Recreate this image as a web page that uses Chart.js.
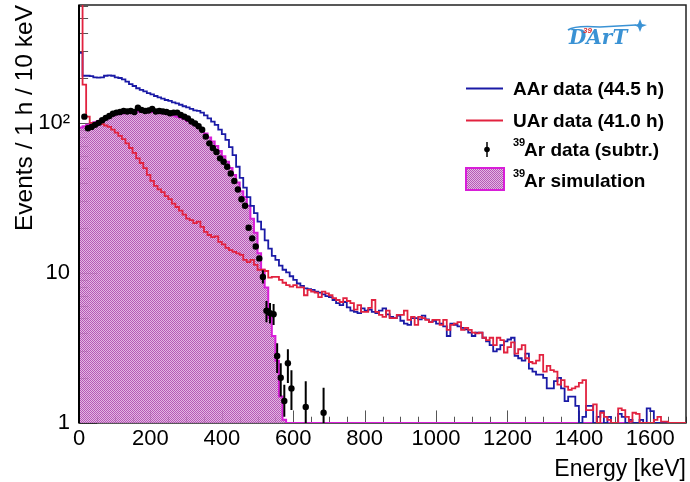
<!DOCTYPE html>
<html>
<head>
<meta charset="utf-8">
<script src="https://cdn.jsdelivr.net/npm/chart.js@4.4.1/dist/chart.umd.min.js"></script>
<style>
  html, body { margin: 0; padding: 0; background: #fff; }
  canvas { display: block; }
</style>
</head>
<body>
<canvas id="c" width="690" height="482"></canvas>
<script>
// ---------------- axis definitions ----------------
const BIN_WIDTH = 10;          // keV per bin
const X_MIN = 0, X_MAX = 1700; // keV
const Y_MIN = 1, Y_MAX = 610;  // events / 1 h / 10 keV
const xTickValues = [0, 200, 400, 600, 800, 1000, 1200, 1400, 1600];
const xMinorStep = 50;
const yTickValues = [1, 10, 100];
const yTickLabels = ['1', '10', '10\u00B2'];

// ---------------- series (one value per 10 keV bin, starting at 0 keV) ----------------
// AAr data (44.5 h)
const aarRate = [
  293, 206, 206, 205, 201, 200, 201, 206, 207, 206,
  201, 199, 195, 188, 181, 176, 170, 166, 162, 158,
  155, 151, 148, 145, 142, 140, 137, 135, 132, 129,
  127, 124, 121, 120, 117, 112, 107, 102, 97, 90,
  84, 77, 69, 61, 51, 43, 37, 32, 28, 25,
  22, 19.5, 16.5, 14.5, 13, 12.2, 11.2, 10.5, 10.1, 9.5,
  9.0, 8.5, 8.2, 7.9, 7.8, 7.7, 7.5, 7.4, 7.2, 7.0,
  6.9, 6.6, 6.3, 6.1, 6.4, 5.9, 5.6, 5.5, 5.4, 5.8,
  5.6, 5.7, 5.5, 5.4, 5.6, 5.8, 5.3, 5.1, 5.0, 5.2,
  4.8, 4.6, 4.5, 5.0, 5.0, 4.9, 5.2, 4.9, 4.7, 4.8,
  4.6, 4.6, 4.4, 3.8, 4.6, 4.5, 4.4, 4.3, 4.2, 4.0,
  3.8, 4.0, 4.0, 3.7, 3.5, 3.3, 3.0, 3.1, 3.3, 3.5,
  3.6, 3.7, 2.8, 2.7, 2.6, 2.9, 2.3, 2.2, 2.1, 2.1,
  2.0, 1.7, 1.7, 1.9, 2.0, 1.7, 1.4, 1.5, 1.5, 1.3,
  0, 1.1, 1.3, 1.3, 0, 1.1, 1.2, 0, 1.1, 0,
  0, 1.15, 1.1, 0, 1.05, 0, 0, 1.05, 0, 1.25,
  1.2, 0, 0, 0, 0, 0, 0, 0, 0, 0
];
// UAr data (41.0 h)
const uarRate = [
  3000, 180, 110, 100, 100, 99, 98, 96, 94, 90,
  86, 82, 78, 73, 68, 63, 58, 54, 50, 45,
  41, 38, 36, 34.5, 32.5, 31, 29, 27.5, 26, 24.5,
  23, 22.5, 21.5, 22, 20.3, 18.8, 17.9, 17.3, 17.5, 16.1,
  15.5, 14.7, 14.2, 13.8, 13.5, 13.2, 12.2, 11.8, 12.2, 11.3,
  10.5, 10.5, 10.3, 9.3, 9.4, 9.4, 9.0, 8.6, 8.3, 8.1,
  8.3, 8.0, 8.0, 7.1, 7.7, 7.5, 7.4, 6.9, 7.5, 7.3,
  7.1, 6.8, 6.6, 6.4, 6.8, 6.5, 6.3, 5.7, 6.1, 5.5,
  5.5, 5.85, 6.6, 5.5, 5.25, 5.1, 5.6, 5.0, 5.0, 5.25,
  5.25, 5.6, 4.86, 5.1, 4.5, 5.1, 5.0, 4.86, 4.7, 4.86,
  4.86, 4.5, 4.86, 4.17, 4.5, 4.6, 4.7, 4.17, 4.3, 4.17,
  4.0, 3.95, 4.0, 3.7, 3.57, 3.7, 3.3, 3.7, 3.57, 2.95,
  3.2, 3.45, 2.9, 3.1, 3.3, 2.7, 2.55, 2.5, 2.6, 2.84,
  2.2, 2.4, 2.25, 2.2, 1.8, 1.93, 1.75, 1.66, 1.7, 1.75,
  1.85, 1.93, 1.22, 1.22, 1.33, 0, 1.17, 1.1, 1.05, 0,
  0, 1.25, 1.22, 1.1, 1.02, 1.17, 1.15, 0, 0, 0,
  0, 1.05, 1.1, 1.02, 1.02, 0, 0, 0, 0, 0
];
// 39Ar simulation (bins beyond the list are empty)
const simRate = [
  93, 95, 97, 99, 101, 103, 106, 108, 110, 112,
  114, 115, 116, 117, 118, 118, 119, 119, 119, 119,
  118, 118, 117, 116, 115, 114, 112, 110, 108, 106,
  103, 100, 97, 93, 89, 85, 80, 75, 70, 65,
  60, 55, 50, 45, 40, 35, 32, 28, 23, 18.5,
  13.5, 10.5, 8, 5.0, 3.8, 2.6, 1.5, 1.05
];
// 39Ar data (subtracted): bin centres [keV], rate, error band
const dataEnergy = [
  15, 25, 35, 45, 55, 65, 75, 85, 95, 105,
  115, 125, 135, 145, 155, 165, 175, 185, 195, 205,
  215, 225, 235, 245, 255, 265, 275, 285, 295, 305,
  315, 325, 335, 345, 355, 365, 375, 385, 395, 405,
  415, 425, 435, 445, 455, 465, 475, 485, 495, 505,
  515, 525, 535, 545, 555, 565, 575, 585, 595, 635, 685
];
const dataRate = [
  110, 92, 94, 97, 100, 104, 108, 111, 115, 117,
  118, 120, 119, 120, 118, 126, 122, 120, 121, 124,
  119, 120, 119, 118, 116, 117, 117, 113, 110, 107,
  102, 99, 95, 90, 81, 73, 68, 64, 58, 55,
  51, 46, 41, 36, 31, 28, 20, 17, 15, 12.5,
  9.4, 5.6, 5.4, 5.3, 2.8, 2.0, 1.4, 2.5, 1.7, 1.28, 1.17
];
const dataErrLow = [
  null, null, null, null, null, null, null, null, null, null,
  null, null, null, null, null, null, null, null, null, null,
  null, null, null, null, null, null, null, null, null, null,
  null, null, null, null, null, null, null, null, null, null,
  null, null, null, null, null, null, null, null, null, null,
  8.5, 4.7, 4.6, 4.5, 2.15, 1.5, 1.1, 1.85, 1.22, 0.8, 0.7
];
const dataErrHigh = [
  null, null, null, null, null, null, null, null, null, null,
  null, null, null, null, null, null, null, null, null, null,
  null, null, null, null, null, null, null, null, null, null,
  null, null, null, null, null, null, null, null, null, null,
  null, null, null, null, null, null, null, null, null, null,
  10.4, 6.5, 6.3, 6.2, 3.4, 2.5, 1.8, 3.1, 2.25, 1.9, 1.72
];

// ---------------- styling ----------------
const COL_BLUE = '#1a1aa6';
const COL_RED = '#e2223f';
const COL_MAG = '#d81ed8';
const FONT = '"Liberation Sans", Arial, Helvetica, sans-serif';

function makeHatch() {
  const c = document.createElement('canvas');
  c.width = 2; c.height = 2;
  const g = c.getContext('2d');
  g.fillStyle = 'rgba(178,80,178,0.95)';
  g.fillRect(0, 0, 1, 1); g.fillRect(1, 1, 1, 1);
  g.fillStyle = 'rgba(222,170,222,0.85)';
  g.fillRect(1, 0, 1, 1); g.fillRect(0, 1, 1, 1);
  return g.createPattern(c, 'repeat');
}
const hatch = makeHatch();

const nBins = aarRate.length;
const binLowEdge = aarRate.map((_, i) => X_MIN + i * BIN_WIDTH);

// histogram outline: left bin edges + closing right edge; empty bins sit on the frame floor
function histPoints(values) {
  const pts = binLowEdge.map((e, i) => ({ x: e, y: Math.max(values[i] ?? 0, Y_MIN) }));
  const lastVal = values[nBins - 1] ?? 0;
  pts.push({ x: binLowEdge[nBins - 1] + BIN_WIDTH, y: Math.max(lastVal, Y_MIN) });
  return pts;
}

// ---------------- plugins ----------------
const frameAndTicks = {
  id: 'frameAndTicks',
  beforeDatasetsDraw(chart) {
    const { ctx, chartArea: a, scales: { x, y } } = chart;
    ctx.save();
    ctx.strokeStyle = '#555';
    ctx.lineWidth = 1;
    const hMaj = 0.03 * (a.bottom - a.top);
    const wMaj = 0.03 * (a.right - a.left);
    ctx.beginPath();
    for (let v = X_MIN; v <= X_MAX; v += xMinorStep) {
      const px = Math.round(x.getPixelForValue(v)) + 0.5;
      const len = xTickValues.includes(v) ? hMaj : hMaj / 2;
      ctx.moveTo(px, a.bottom);
      ctx.lineTo(px, a.bottom - len);
    }
    for (let d = 1; d <= Y_MAX; d *= 10) {
      for (let k = 1; k <= 9; k++) {
        const v = k * d;
        if (v > Y_MAX) break;
        const py = Math.round(y.getPixelForValue(v)) + 0.5;
        const len = k === 1 ? wMaj : wMaj / 2;
        ctx.moveTo(a.left, py);
        ctx.lineTo(a.left + len, py);
      }
    }
    ctx.stroke();
    // frame
    ctx.strokeStyle = '#222';
    ctx.lineWidth = 1.5;
    ctx.strokeRect(a.left, a.top, a.right - a.left, a.bottom - a.top);
    ctx.restore();
  },
  afterDatasetsDraw(chart) {
    const { ctx, chartArea: a, scales: { x, y } } = chart;
    // error bars of the subtracted data
    ctx.save();
    ctx.beginPath();
    ctx.rect(a.left, a.top, a.right - a.left, a.bottom - a.top);
    ctx.clip();
    ctx.strokeStyle = '#000';
    ctx.lineWidth = 2;
    ctx.beginPath();
    dataEnergy.forEach((e, i) => {
      if (dataErrLow[i] == null) return;
      const px = x.getPixelForValue(e);
      ctx.moveTo(px, y.getPixelForValue(dataErrLow[i]));
      ctx.lineTo(px, y.getPixelForValue(dataErrHigh[i]));
    });
    ctx.stroke();
    ctx.restore();
    // left axis line on top
    ctx.save();
    ctx.strokeStyle = '#000';
    ctx.lineWidth = 2;
    ctx.beginPath();
    ctx.moveTo(a.left, a.top);
    ctx.lineTo(a.left, a.bottom);
    ctx.stroke();
    ctx.restore();
  }
};

const legendAndLogo = {
  id: 'legendAndLogo',
  afterDraw(chart) {
    const { ctx } = chart;
    ctx.save();
    // legend
    const x0 = 466, x1 = 503, tx = 513;
    ctx.lineWidth = 2;
    ctx.strokeStyle = COL_BLUE;
    ctx.beginPath(); ctx.moveTo(x0, 88.5); ctx.lineTo(x1, 88.5); ctx.stroke();
    ctx.strokeStyle = COL_RED;
    ctx.beginPath(); ctx.moveTo(x0, 120.5); ctx.lineTo(x1, 120.5); ctx.stroke();
    ctx.strokeStyle = '#000';
    ctx.lineWidth = 1.5;
    ctx.beginPath(); ctx.moveTo(487, 142); ctx.lineTo(487, 157); ctx.stroke();
    ctx.fillStyle = '#000';
    ctx.beginPath(); ctx.arc(487, 149.5, 2.8, 0, Math.PI * 2); ctx.fill();
    ctx.fillStyle = hatch;
    ctx.fillRect(466, 168, 38, 22);
    ctx.strokeStyle = COL_MAG;
    ctx.lineWidth = 2;
    ctx.strokeRect(466, 168, 38, 22);

    ctx.fillStyle = '#000';
    ctx.textBaseline = 'middle';
    ctx.textAlign = 'left';
    ctx.font = 'bold 19px ' + FONT;
    ctx.fillText('AAr data (44.5 h)', tx, 89.5);
    ctx.fillText('UAr data (41.0 h)', tx, 121.5);
    ctx.fillText('Ar data (subtr.)', tx + 11, 151);
    ctx.fillText('Ar simulation', tx + 11, 182);
    ctx.font = 'bold 11px ' + FONT;
    ctx.fillText('39', tx, 142.5);
    ctx.fillText('39', tx, 173.5);

    // DArT logo
    ctx.fillStyle = '#3a92d4';
    ctx.strokeStyle = '#3a92d4';
    ctx.font = 'italic bold 20px "DejaVu Serif", "Liberation Serif", serif';
    ctx.textBaseline = 'alphabetic';
    ctx.fillText('DArT', 569, 44);
    ctx.lineWidth = 1.6;
    ctx.beginPath();
    ctx.moveTo(568, 30);
    ctx.quadraticCurveTo(575, 25, 600, 27);
    ctx.lineTo(636, 25);
    ctx.stroke();
    ctx.beginPath();
    ctx.moveTo(640, 19); ctx.lineTo(642, 24); ctx.lineTo(647, 25); ctx.lineTo(642, 27);
    ctx.lineTo(640, 32); ctx.lineTo(638, 27); ctx.lineTo(634, 25); ctx.lineTo(638, 24);
    ctx.closePath(); ctx.fill();
    ctx.fillStyle = '#e03030';
    ctx.font = 'italic bold 8px ' + FONT;
    ctx.fillText('39', 583, 33);
    ctx.restore();
  }
};

// ---------------- chart ----------------
new Chart(document.getElementById('c'), {
  type: 'line',
  data: {
    datasets: [
      {
        label: '39Ar data (subtr.)',
        data: dataEnergy.map((e, i) => ({ x: e, y: dataRate[i] })),
        showLine: false,
        pointRadius: 3.2,
        pointBackgroundColor: '#000',
        pointBorderColor: '#000',
        pointBorderWidth: 0,
        order: 0
      },
      {
        label: 'UAr data (41.0 h)',
        data: histPoints(uarRate),
        stepped: 'before',
        borderColor: COL_RED,
        borderWidth: 1.8,
        pointRadius: 0,
        fill: false,
        order: 1
      },
      {
        label: 'AAr data (44.5 h)',
        data: histPoints(aarRate),
        stepped: 'before',
        borderColor: COL_BLUE,
        borderWidth: 1.8,
        pointRadius: 0,
        fill: false,
        order: 2
      },
      {
        label: '39Ar simulation',
        data: histPoints(simRate),
        stepped: 'before',
        borderColor: COL_MAG,
        borderWidth: 2,
        backgroundColor: hatch,
        pointRadius: 0,
        fill: 'start',
        order: 3
      }
    ]
  },
  options: {
    responsive: false,
    animation: false,
    devicePixelRatio: 1,
    layout: { padding: { left: 0, right: 1, top: 5, bottom: 0 } },
    plugins: { legend: { display: false }, tooltip: { enabled: false } },
    elements: { line: { borderJoinStyle: 'miter', tension: 0 } },
    scales: {
      x: {
        type: 'linear',
        min: X_MIN,
        max: X_MAX,
        grid: { display: false, drawTicks: false },
        border: { display: false },
        afterBuildTicks: (s) => { s.ticks = xTickValues.map(v => ({ value: v })); },
        afterFit: (s) => { s.height = 59; s.paddingLeft = 0; s.paddingRight = 0; },
        ticks: {
          autoSkip: false,
          maxRotation: 0,
          padding: 3,
          color: '#000',
          font: { family: FONT, size: 22 },
          callback: (v) => String(v)
        },
        title: {
          display: true,
          text: 'Energy [keV]',
          align: 'end',
          color: '#000',
          font: { family: FONT, size: 23, lineHeight: 1.0 },
          padding: { top: 0, bottom: 1 }
        }
      },
      y: {
        type: 'logarithmic',
        min: Y_MIN,
        max: Y_MAX,
        grid: { display: false, drawTicks: false },
        border: { display: false },
        afterBuildTicks: (s) => { s.ticks = yTickValues.map(v => ({ value: v })); },
        afterFit: (s) => { s.width = 79; s.paddingTop = 0; s.paddingBottom = 0; },
        ticks: {
          autoSkip: false,
          padding: 9,
          color: '#000',
          font: { family: FONT, size: 22 },
          callback: (v) => {
            const i = yTickValues.indexOf(v);
            return i >= 0 ? yTickLabels[i] : '';
          }
        },
        title: {
          display: true,
          text: 'Events / 1 h / 10 keV',
          align: 'end',
          color: '#000',
          font: { family: FONT, size: 24.5 },
          padding: { top: 11, bottom: 0 }
        }
      }
    }
  },
  plugins: [frameAndTicks, legendAndLogo]
});
</script>
</body>
</html>
